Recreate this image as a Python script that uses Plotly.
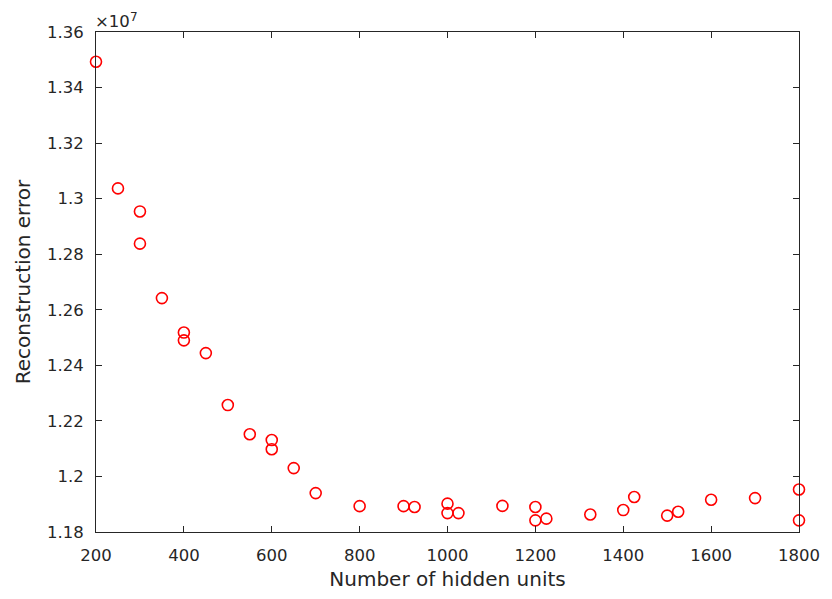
import plotly.graph_objects as go

hidden_units = [200, 250, 300, 300, 350, 400, 400, 450, 500, 550, 600, 600, 650, 700,
                800, 900, 925, 1000, 1000, 1025, 1125, 1200, 1200, 1225, 1325, 1400,
                1425, 1500, 1525, 1600, 1700, 1800, 1800]
recon_error = [1.3493, 1.3037, 1.2954, 1.2838, 1.2642, 1.2518, 1.2490, 1.2444, 1.2257,
               1.2152, 1.2131, 1.2098, 1.2030, 1.1940, 1.1893, 1.1893, 1.1890, 1.1902,
               1.1868, 1.1868, 1.1894, 1.1890, 1.1842, 1.1848, 1.1863, 1.1879, 1.1926,
               1.1859, 1.1873, 1.1916, 1.1922, 1.1953, 1.1842]
recon_error = [v * 1e7 for v in recon_error]

x_ticks = [200, 400, 600, 800, 1000, 1200, 1400, 1600, 1800]
y_tick_vals = [1.18, 1.20, 1.22, 1.24, 1.26, 1.28, 1.30, 1.32, 1.34, 1.36]
y_tick_text = ["1.18", "1.2", "1.22", "1.24", "1.26", "1.28", "1.3", "1.32", "1.34", "1.36"]

axis_color = "#262626"
font = "DejaVu Sans, sans-serif"

fig = go.Figure()
fig.add_trace(go.Scatter(
    x=hidden_units, y=recon_error, mode="markers",
    marker=dict(symbol="circle-open", size=11, color="#ff0000", line=dict(width=1.6, color="#ff0000")),
    cliponaxis=False, showlegend=False,
))

axis_common = dict(
    showline=True, linecolor=axis_color, linewidth=1, mirror="ticks",
    ticks="inside", ticklen=6, tickcolor=axis_color, showgrid=False, zeroline=False,
    tickfont=dict(family=font, size=16.5, color=axis_color),
)

fig.update_xaxes(range=[200, 1800], tickvals=x_ticks, ticklabelstandoff=8,
                 title=dict(text="Number of hidden units", font=dict(family=font, size=20, color=axis_color), standoff=8),
                 **axis_common)
fig.update_yaxes(range=[1.18e7, 1.36e7], tickvals=[v * 1e7 for v in y_tick_vals], ticktext=y_tick_text,
                 ticklabelstandoff=8,
                 title=dict(text="Reconstruction error", font=dict(family=font, size=20, color=axis_color), standoff=10),
                 **axis_common)

# exponent label "×10^7" above the top-left corner
fig.add_annotation(x=0, y=1, xref="paper", yref="paper", xanchor="left", yanchor="bottom",
                   text="×10", showarrow=False, yshift=0, xshift=-2, borderpad=0,
                   font=dict(family=font, size=16.5, color=axis_color))
fig.add_annotation(x=0, y=1, xref="paper", yref="paper", xanchor="left", yanchor="bottom",
                   text="7", showarrow=False, yshift=7, xshift=33, borderpad=0,
                   font=dict(family=font, size=12, color=axis_color))

fig.update_layout(
    width=824, height=591,
    margin=dict(l=88, r=28, t=24, b=66),
    plot_bgcolor="white", paper_bgcolor="white",
    font=dict(family=font, color=axis_color),
)

fig.write_html("out.html")
